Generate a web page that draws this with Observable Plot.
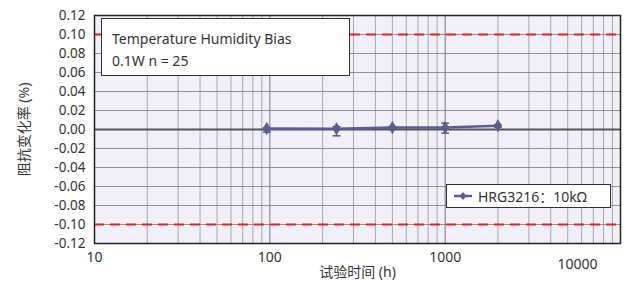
<!DOCTYPE html>
<html>
<head>
<meta charset="utf-8">
<script src="https://cdn.jsdelivr.net/npm/d3@7"></script>
<script src="https://cdn.jsdelivr.net/npm/@observablehq/plot@0.6"></script>
<style>
  html, body { margin: 0; padding: 0; background: #fff; }
  #wrap { position: relative; width: 625px; height: 287px; font-family: "Noto Sans", "Noto Sans CJK SC", sans-serif; }
  #note { position: absolute; left: 101px; top: 18px; width: 249px; height: 58px; background: #fff; border: 1.3px solid #333; box-sizing: border-box; color: #333; font-size: 14px; padding: 9px 0 0 10px; line-height: 22px; }
  #legend { position: absolute; left: 446px; top: 184px; width: 165px; height: 24px; background: #fff; border: 1.3px solid #333; box-sizing: border-box; color: #333; font-size: 14px; display: flex; align-items: center; padding-left: 7px; }
  #legend svg { margin-right: 6px; }
</style>
</head>
<body>
<div id="wrap"></div>
<script>
// ---- data ----
const hours = [96, 240, 500, 1000, 2000];
const changes = [0.0010, 0.0007, 0.0020, 0.0020, 0.0039];
const lows = [-0.0027, -0.0067, 0.0005, -0.0038, 0.0025];
const highs = [0.0020, 0.0030, 0.0032, 0.0067, 0.0050];
const seriesName = "HRG3216：10kΩ";
const noteLines = ["Temperature Humidity Bias", "0.1W n = 25"];
const xLabel = "试验时间 (h)";
const yLabel = "阻抗变化率 (%)";
const xMajorTicks = [10, 100, 1000, 10000];
const xMinorTicks = [20, 30, 40, 50, 60, 70, 80, 90, 200, 300, 400, 500, 600, 700, 800, 900, 2000, 3000, 4000, 5000, 6000, 7000, 8000, 9000];
const yTicks = [-0.12, -0.10, -0.08, -0.06, -0.04, -0.02, 0.00, 0.02, 0.04, 0.06, 0.08, 0.10, 0.12];
const limitLines = [-0.10, 0.10];

const color = "#5a5c94";
const rows = hours.map((h, i) => ({h, v: changes[i], lo: lows[i], hi: highs[i]}));

const cap = { draw(ctx, size) { const w = Math.sqrt(size); ctx.moveTo(-w, 0); ctx.lineTo(w, 0); } };

const chart = Plot.plot({
  width: 625,
  height: 287,
  marginLeft: 94,
  marginRight: 5,
  marginTop: 15,
  marginBottom: 44,
  style: { fontFamily: "'Noto Sans', 'Noto Sans CJK SC', sans-serif", fontSize: "13px", color: "#333", background: "transparent" },
  x: { type: "log", domain: [10, 10000] },
  y: { domain: [-0.12, 0.12] },
  marks: [
    Plot.frame({ fill: "#f1eff7" }),
    Plot.ruleX(xMinorTicks, { stroke: "#a8a8a8", strokeWidth: 1 }),
    Plot.ruleX(xMajorTicks, { stroke: "#777", strokeWidth: 1 }),
    Plot.ruleY(yTicks, { stroke: "#7a7a7a", strokeWidth: 0.8 }),
    Plot.ruleY(limitLines, { stroke: "#e82020", strokeWidth: 2, strokeDasharray: "10,6" }),
    Plot.ruleY([0], { stroke: "#555", strokeWidth: 1.8 }),
    Plot.axisY({ ticks: yTicks, tickSize: 0, tickPadding: 9, tickFormat: d => d.toFixed(2), fontSize: 13.5, label: null }),
    Plot.axisX({ ticks: xMajorTicks.slice(0, 3), tickSize: 0, tickPadding: 9, tickFormat: d => String(d), fontSize: 14, label: null }),
    Plot.text([xMajorTicks[3]], { x: d => d, frameAnchor: "bottom", dy: 16, dx: -43, lineAnchor: "top", text: d => String(d), fontSize: 14, fill: "#333" }),
    Plot.text([yLabel], { frameAnchor: "left", textAnchor: "middle", dx: -70, rotate: -90, text: d => d, fontSize: 14, fill: "#333" }),
    Plot.text([xLabel], { frameAnchor: "bottom", textAnchor: "middle", dy: 33, text: d => d, fontSize: 14, fill: "#333" }),
    Plot.ruleX(rows, { x: "h", y1: "lo", y2: "hi", stroke: "#333", strokeWidth: 1.2 }),
    Plot.dot(rows, { x: "h", y: "lo", symbol: cap, r: 2.2, stroke: "#333", strokeWidth: 1.2 }),
    Plot.dot(rows, { x: "h", y: "hi", symbol: cap, r: 2.2, stroke: "#333", strokeWidth: 1.2 }),
    Plot.line(rows, { x: "h", y: "v", stroke: color, strokeWidth: 2.5 }),
    Plot.dot(rows, { x: "h", y: "v", symbol: "diamond", r: 3.8, fill: color, stroke: color, strokeWidth: 0.5 }),
    Plot.frame({ stroke: "#222", strokeWidth: 1.5 })
  ]
});

const wrap = document.getElementById("wrap");
wrap.appendChild(chart);

const note = document.createElement("div");
note.id = "note";
note.innerHTML = noteLines.map(t => `<div>${t}</div>`).join("");
wrap.appendChild(note);

const legend = document.createElement("div");
legend.id = "legend";
legend.innerHTML = `<svg width="18" height="10"><line x1="0" y1="5" x2="18" y2="5" stroke="${color}" stroke-width="2.5"/><path d="M9,1 L12.5,5 L9,9 L5.5,5 Z" fill="${color}"/></svg><span>${seriesName}</span>`;
wrap.appendChild(legend);
</script>
</body>
</html>
